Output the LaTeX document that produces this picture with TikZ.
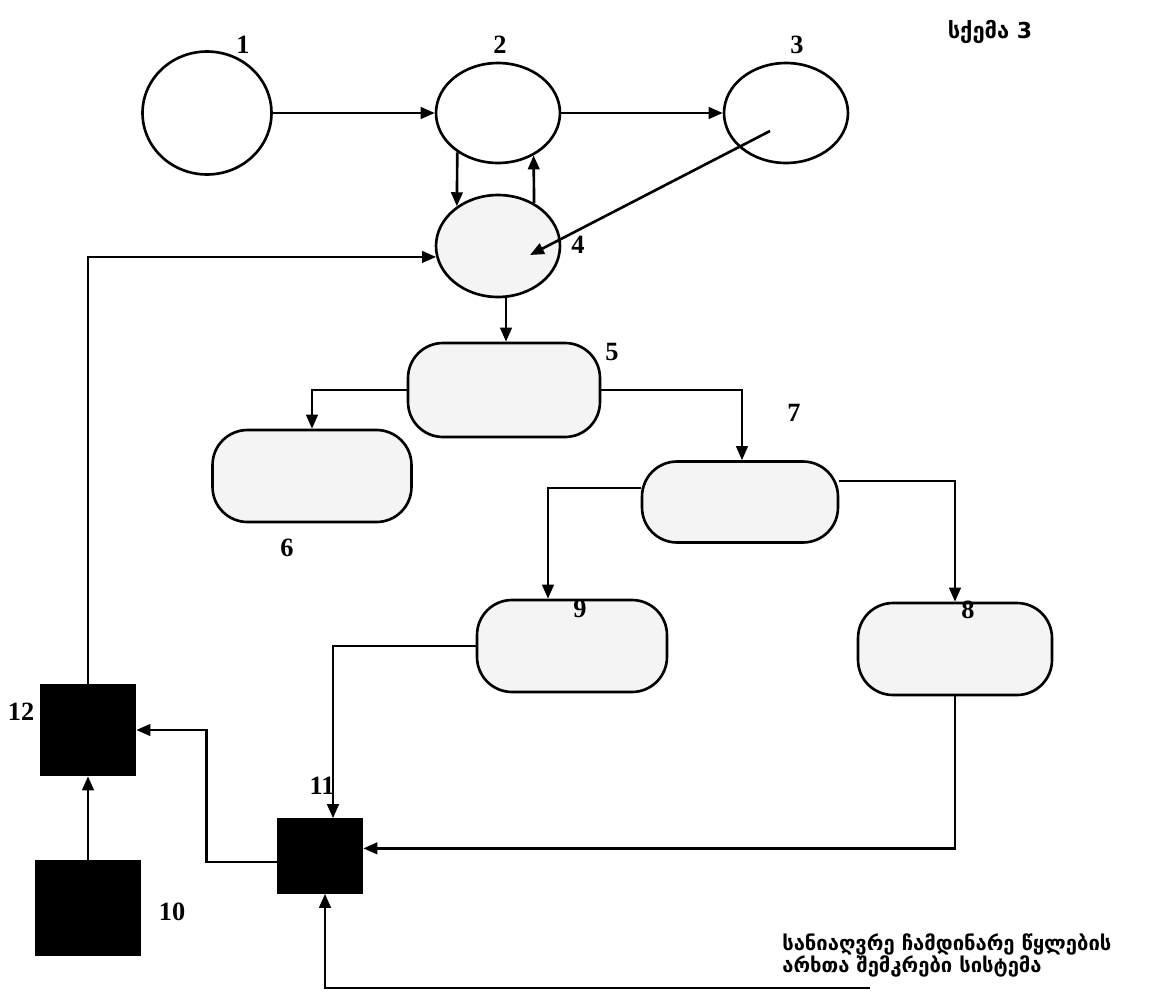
\documentclass[tikz,border=0pt]{standalone}
\usepackage{fontspec}
\setmainfont{Liberation Serif}
\newfontfamily\geofont{DejaVu Sans}
\usetikzlibrary{positioning, shapes.geometric, arrows.meta, calc}

\begin{document}
\begin{tikzpicture}[
    x=0.02cm,
    y=-0.02cm,
    line width=1.5pt,
    oval/.style={
        draw,
        ellipse,
        inner sep=0pt,
        minimum width=2.48cm,
        minimum height=2cm,
        fill=white
    },
    basin/.style={
        draw,
        rectangle,
        rounded corners=0.7cm,
        inner sep=0pt,
        minimum width=3.9cm,
        minimum height=1.84cm,
        fill=gray!9
    },
    block/.style={
        draw,
        rectangle,
        fill=black,
        inner sep=0pt,
        minimum width=1.88cm,
        minimum height=1.8cm
    },
    num/.style={
        font=\fontsize{15}{17}\selectfont\bfseries,
        inner sep=1pt
    },
    geo/.style={
        font=\geofont\bfseries\fontsize{11.5}{13}\selectfont,
        align=left,
        inner sep=0pt
    },
    arrow/.style={
        -{Triangle[length=2.8mm,width=2.3mm]}
    }
]
\useasboundingbox (0,0) rectangle (1166,994);

% Upper chain
\node[oval, minimum width=2.58cm, minimum height=2.46cm] (n1) at (207,113) {};
\node[oval] (n2) at (498,113) {};
\node[oval] (n3) at (786,113) {};
\node[oval, fill=gray!9, minimum height=2.04cm] (n4) at (498,246) {};

% Basins
\node[basin, minimum width=3.84cm, minimum height=1.88cm] (n5) at (504,390) {};
\node[basin, minimum width=3.98cm] (n6) at (312,476) {};
\node[basin, minimum width=3.92cm, minimum height=1.62cm] (n7) at (740,502) {};
\node[basin, minimum width=3.8cm] (n9) at (572,646) {};
\node[basin, minimum width=3.88cm] (n8) at (955,649) {};

% Blocks
\node[block] (n12) at (88,730) {};
\node[block, minimum width=2.06cm, minimum height=1.86cm] (n10) at (88,908) {};
\node[block, minimum width=1.68cm, minimum height=1.46cm] (n11) at (320,856) {};

% Numbers
\node[num] (l1) at (243,45) {1};
\node[num] (l2) at (500,45) {2};
\node[num] (l3) at (797,45) {3};
\node[num] (l4) at (578,245) {4};
\node[num] (l5) at (612,352) {5};
\node[num] (l6) at (287,548) {6};
\node[num] (l7) at (794,413) {7};
\node[num] (l9) at (580,609) {9};
\node[num] (l8) at (968,610) {8};
\node[num] (l11) at (322,786) {11};
\node[num] (l12) at (21,712) {12};
\node[num] (l10) at (172,912) {10};

% Texts
\node[geo, font=\geofont\bfseries\fontsize{12.5}{14}\selectfont] (title) at (990,32) {სქემა 3};
\node[geo, anchor=north west] (legend) at (781,932) {სანიაღვრე ჩამდინარე წყლების\\არხთა შემკრები სისტემა};

% Free ends
\coordinate (d3) at ($(n3)+(-16,18)$);
\coordinate (d4) at ($(n4)+(32,9)$);
\coordinate (inlet) at (870,988);

% Connections
\draw[arrow] (n1.east) -- (n2.west);
\draw[arrow] (n2.east) -- (n3.west);
\draw[arrow] (n2.224) -- (n4.136);
\draw[arrow] (n4.50) -- (n2.-50);
\draw[arrow] (d3) -- (d4);
\draw[arrow] (n12.north) |- (n4.190);
\draw[arrow] (n4.south -| n5.north) ++(2,0) -- ($(n5.north)+(2,0)$);
\draw[arrow] (n5.west) -| (n6.north);
\draw[arrow] (n5.east) -| ($(n7.north)+(2,0)$);
\draw[arrow] (n7.172) -| ($(n9.north)+(-24,0)$);
\draw[arrow] (n7.12) -| (n8.north);
\draw[arrow] (n9.west) -| ($(n11.north)+(13,0)$);
\draw[arrow] (n8.south) |- (n11.10);
\draw[arrow] (inlet) -| ($(n11.south)+(5,0)$);
\draw[arrow] (n11.188) -- ++(-70,0) |- (n12.east);
\draw[arrow] (n10.north) -- (n12.south);

\end{tikzpicture}
\end{document}
